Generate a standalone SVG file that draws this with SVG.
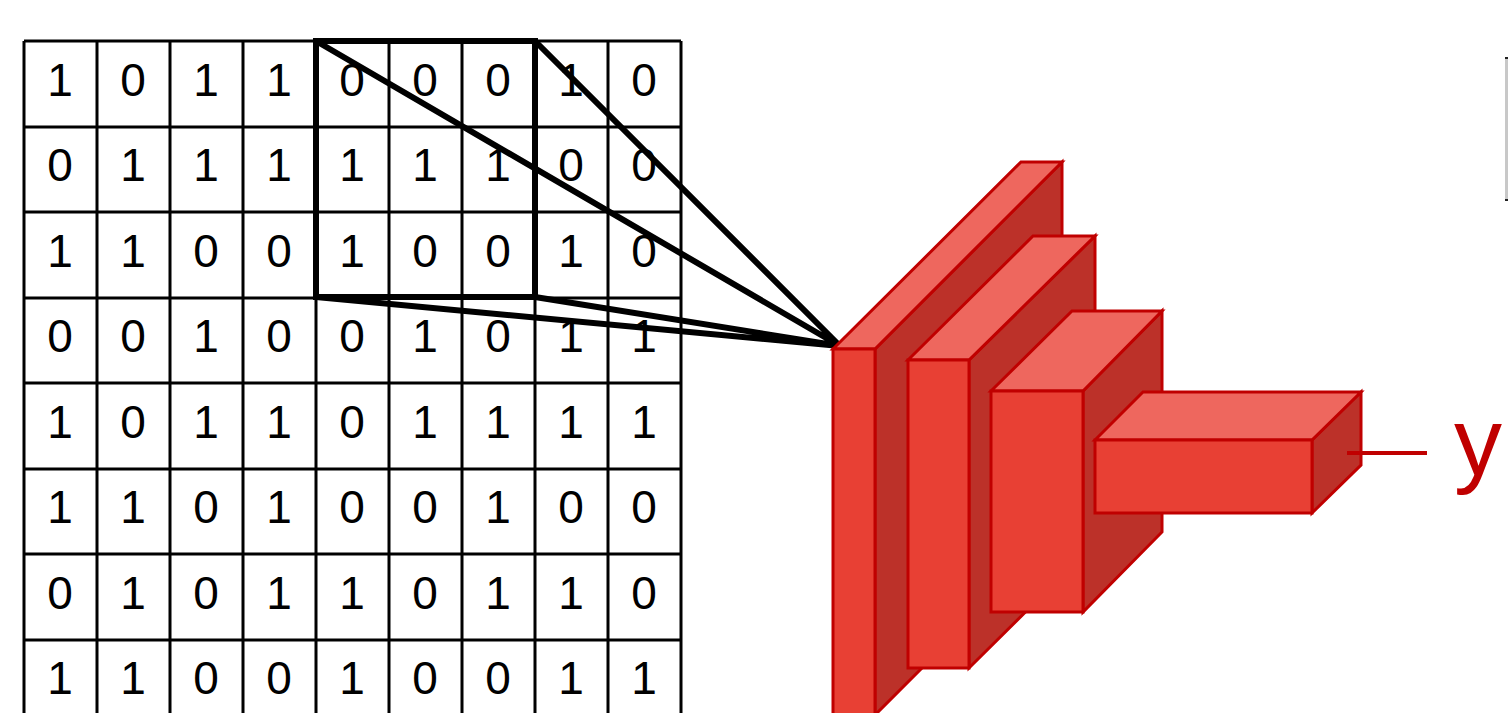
<svg xmlns="http://www.w3.org/2000/svg" width="1508" height="713" viewBox="0 0 1508 713">
<style>
.g{stroke:#000;stroke-width:3;fill:none}
.t{font-family:"Liberation Sans",Arial,sans-serif;font-size:46px;fill:#000;text-anchor:middle}
.k{stroke:#000;stroke-width:6;fill:none}
.f{fill:#E84034;stroke:#C00000;stroke-width:3;stroke-linejoin:miter}
.tp{fill:#EE675E;stroke:#C00000;stroke-width:3}
.sd{fill:#BC3129;stroke:#C00000;stroke-width:3}
</style>
<rect width="1508" height="713" fill="#fff"/>
<g id="grid">
<path class="g" d="M24 41V730M97 41V730M170 41V730M243 41V730M316 41V730M389 41V730M462 41V730M535 41V730M608 41V730M681 41V730"/>
<path class="g" d="M24 41H681M24 127H681M24 212H681M24 298H681M24 383H681M24 469H681M24 554H681M24 640H681"/>
<g class="t">
<text x="60" y="96">1</text><text x="133" y="96">0</text><text x="206" y="96">1</text><text x="279" y="96">1</text><text x="352" y="96">0</text><text x="425" y="96">0</text><text x="498" y="96">0</text><text x="571" y="96">1</text><text x="644" y="96">0</text>
<text x="60" y="181">0</text><text x="133" y="181">1</text><text x="206" y="181">1</text><text x="279" y="181">1</text><text x="352" y="181">1</text><text x="425" y="181">1</text><text x="498" y="181">1</text><text x="571" y="181">0</text><text x="644" y="181">0</text>
<text x="60" y="267">1</text><text x="133" y="267">1</text><text x="206" y="267">0</text><text x="279" y="267">0</text><text x="352" y="267">1</text><text x="425" y="267">0</text><text x="498" y="267">0</text><text x="571" y="267">1</text><text x="644" y="267">0</text>
<text x="60" y="352">0</text><text x="133" y="352">0</text><text x="206" y="352">1</text><text x="279" y="352">0</text><text x="352" y="352">0</text><text x="425" y="352">1</text><text x="498" y="352">0</text><text x="571" y="352">1</text><text x="644" y="352">1</text>
<text x="60" y="438">1</text><text x="133" y="438">0</text><text x="206" y="438">1</text><text x="279" y="438">1</text><text x="352" y="438">0</text><text x="425" y="438">1</text><text x="498" y="438">1</text><text x="571" y="438">1</text><text x="644" y="438">1</text>
<text x="60" y="523">1</text><text x="133" y="523">1</text><text x="206" y="523">0</text><text x="279" y="523">1</text><text x="352" y="523">0</text><text x="425" y="523">0</text><text x="498" y="523">1</text><text x="571" y="523">0</text><text x="644" y="523">0</text>
<text x="60" y="609">0</text><text x="133" y="609">1</text><text x="206" y="609">0</text><text x="279" y="609">1</text><text x="352" y="609">1</text><text x="425" y="609">0</text><text x="498" y="609">1</text><text x="571" y="609">1</text><text x="644" y="609">0</text>
<text x="60" y="694">1</text><text x="133" y="694">1</text><text x="206" y="694">0</text><text x="279" y="694">0</text><text x="352" y="694">1</text><text x="425" y="694">0</text><text x="498" y="694">0</text><text x="571" y="694">1</text><text x="644" y="694">1</text>
</g>
</g>
<g id="kernel">
<rect class="k" x="316" y="41" width="219" height="256"/>
</g>
<g id="connectors">
<path class="k" d="M316 41L840 346M535 41L840 346M316 297L840 346M535 297L840 346"/>
</g>
<g id="block1">
<polygon class="sd" points="875,349 1062,162 1062,528 875,715"/>
<polygon class="tp" points="833,349 1021,162 1062,162 875,349"/>
<rect class="f" x="833" y="349" width="42" height="366"/>
</g>
<g id="block2">
<polygon class="sd" points="969,360 1095,236 1095,543 969,668"/>
<polygon class="tp" points="908,360 1033,236 1095,236 969,360"/>
<rect class="f" x="908" y="360" width="61" height="308"/>
</g>
<g id="block3">
<polygon class="sd" points="1083,391 1162,311 1162,532 1083,612"/>
<polygon class="tp" points="991,391 1072,311 1162,311 1083,391"/>
<rect class="f" x="991" y="391" width="92" height="221"/>
</g>
<g id="block4">
<polygon class="sd" points="1312,440 1361,392 1361,465 1312,513"/>
<polygon class="tp" points="1095,440 1143,392 1361,392 1312,440"/>
<rect class="f" x="1095" y="440" width="217" height="73"/>
</g>
<g id="output">
<path d="M1347 453H1427" stroke="#C00000" stroke-width="4" fill="none"/>
<text x="1454" y="475" font-family="Liberation Sans,Arial,sans-serif" font-size="96" fill="#C00000">y</text>
</g>
<g id="edge-box">
<rect x="1505" y="58" width="3" height="142" fill="#c8c8c8"/>
<rect x="1505" y="57" width="3" height="2" fill="#222"/>
<rect x="1505" y="199" width="3" height="2" fill="#222"/>
</g>
</svg>
